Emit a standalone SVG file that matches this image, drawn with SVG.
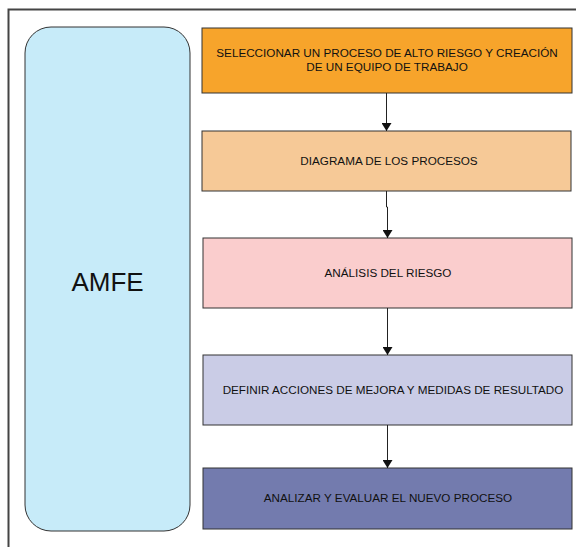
<svg xmlns="http://www.w3.org/2000/svg" width="576" height="547" viewBox="0 0 576 547">
<style>
.box{stroke:#333;stroke-width:1}
.t{font-family:"Liberation Sans",Arial,sans-serif;font-size:11.7px;fill:#111;text-anchor:middle}
.c{stroke:#222;stroke-width:1;fill:none}
</style>
<defs>
<marker id="ah" markerWidth="8" markerHeight="10" refX="8" refY="5" orient="auto" markerUnits="userSpaceOnUse">
<path d="M0,0 L8,5 L0,10 Z" fill="#111"/>
</marker>
</defs>
<rect width="576" height="547" fill="#fff"/>
<path d="M8.5,547 V9.5 H576" fill="none" stroke="#444" stroke-width="2"/>
<g id="amfe">
<rect x="25" y="27" width="165" height="504" rx="26" fill="#C7EBF9" stroke="#333" stroke-width="1"/>
<text x="107.5" y="291" style="font-family:'Liberation Sans',Arial,sans-serif;font-size:26px;fill:#111;text-anchor:middle">AMFE</text>
</g>
<g id="n1">
<rect class="box" x="202" y="28" width="370" height="65" fill="#F7A42B"/>
<text class="t" x="387" y="57">SELECCIONAR UN PROCESO DE ALTO RIESGO Y CREACIÓN</text>
<text class="t" x="387" y="71">DE UN EQUIPO DE TRABAJO</text>
</g>
<g id="n2">
<rect class="box" x="202" y="131" width="369" height="60" fill="#F6C997"/>
<text class="t" x="389" y="165">DIAGRAMA DE LOS PROCESOS</text>
</g>
<g id="n3">
<rect class="box" x="203" y="238" width="369" height="70" fill="#FACDCD"/>
<text class="t" x="388" y="277">ANÁLISIS DEL RIESGO</text>
</g>
<g id="n4">
<rect class="box" x="203" y="355" width="369" height="70" fill="#CACCE6"/>
<text class="t" x="393" y="394">DEFINIR ACCIONES DE MEJORA Y MEDIDAS DE RESULTADO</text>
</g>
<g id="n5">
<rect class="box" x="203" y="468" width="369" height="61" fill="#737BAE"/>
<text class="t" x="388" y="502">ANALIZAR Y EVALUAR EL NUEVO PROCESO</text>
</g>
<g id="connectors">
<path class="c" d="M386.5,93 V131" marker-end="url(#ah)"/>
<path class="c" d="M386.5,191 V207 H387.5 V238" marker-end="url(#ah)"/>
<path class="c" d="M387.5,308 V355" marker-end="url(#ah)"/>
<path class="c" d="M387.5,425 V468" marker-end="url(#ah)"/>
</g>
</svg>
